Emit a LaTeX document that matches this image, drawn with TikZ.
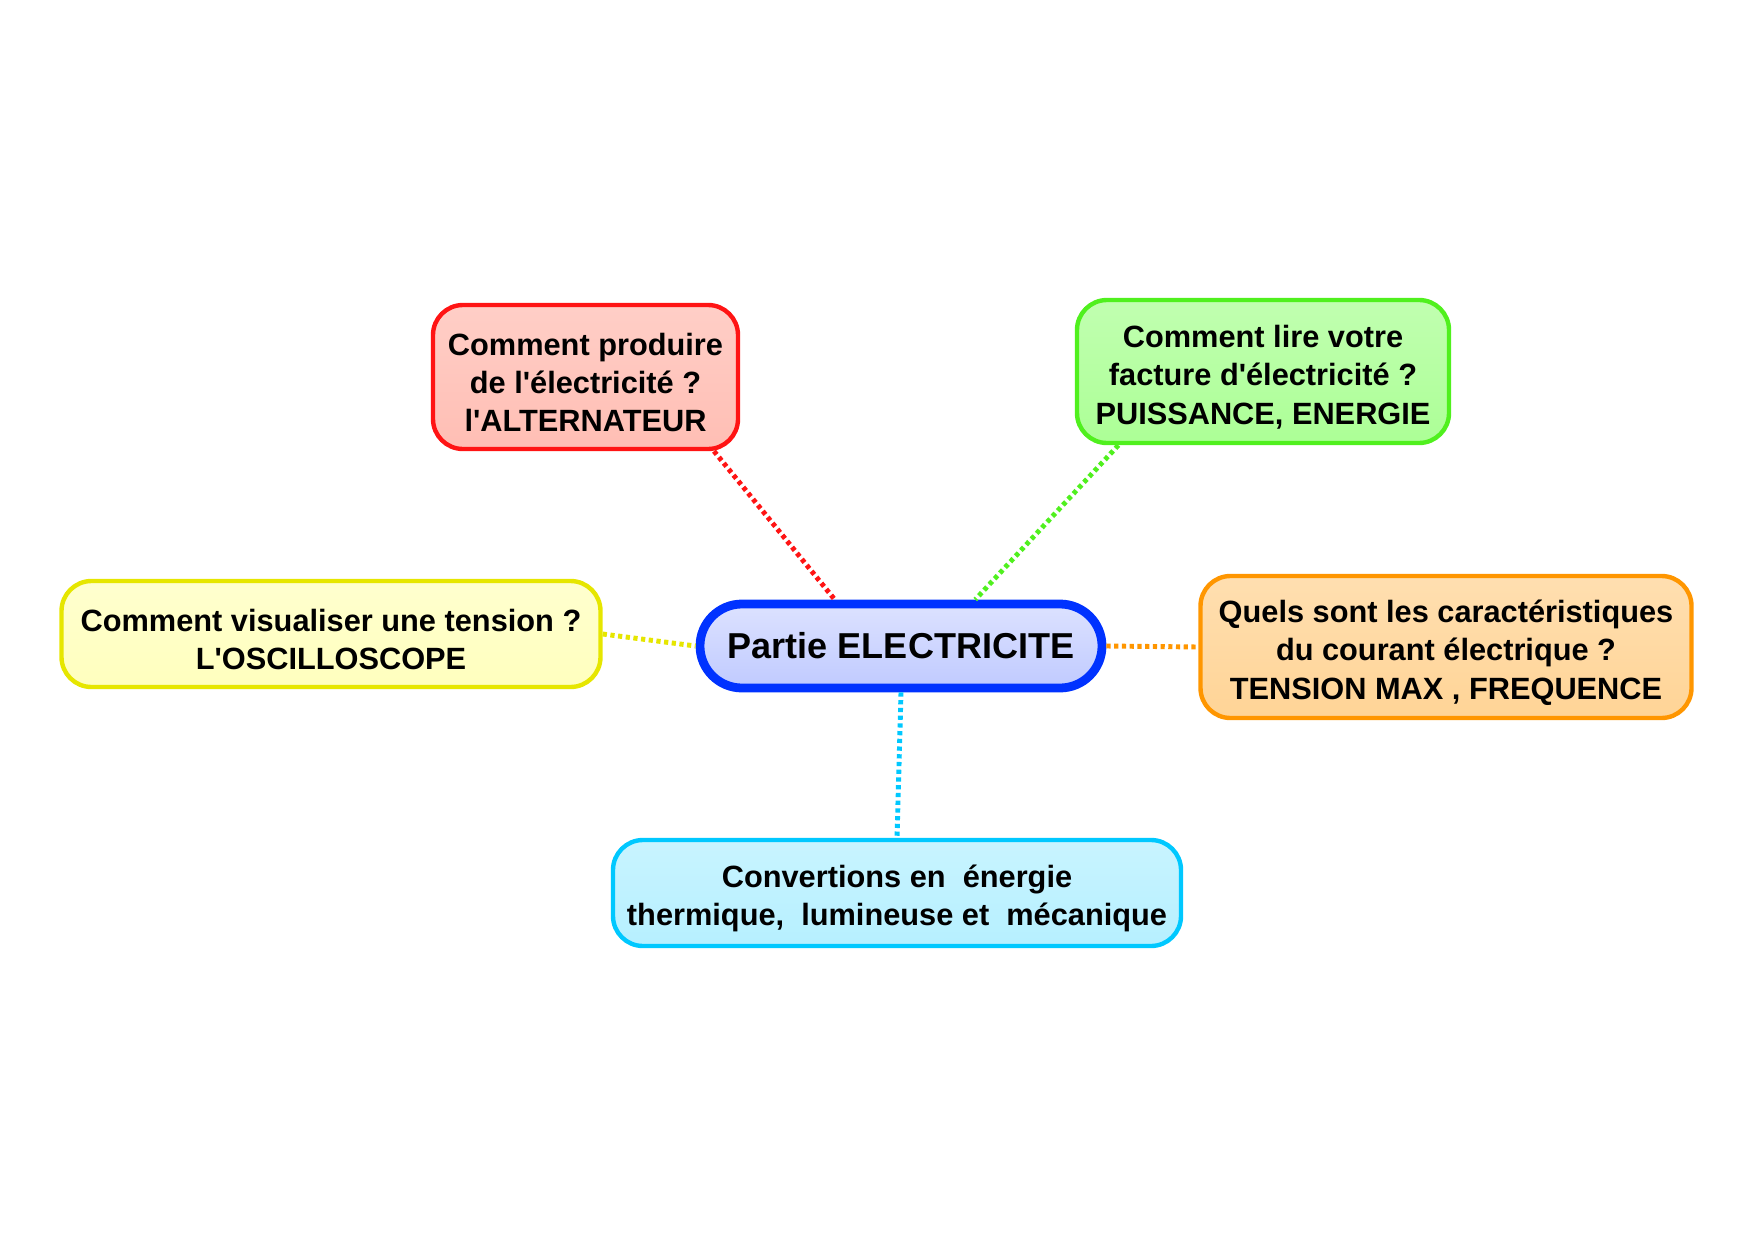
\documentclass[tikz,border=0pt]{standalone}
\usepackage{fontspec}
\setmainfont{Liberation Sans}[Ligatures=TeXOff]
\definecolor{rouge}{RGB}{255,20,20}
\definecolor{rougefond}{RGB}{255,190,180}
\definecolor{vert}{RGB}{80,240,30}
\definecolor{vertfond}{RGB}{172,255,150}
\definecolor{jaune}{RGB}{230,230,0}
\definecolor{jaunefond}{RGB}{255,255,190}
\definecolor{bleu}{RGB}{0,50,255}
\definecolor{bleufond}{RGB}{192,202,255}
\definecolor{orange}{RGB}{255,150,0}
\definecolor{orangefond}{RGB}{255,212,150}
\definecolor{cyan}{RGB}{0,200,255}
\definecolor{cyanfond}{RGB}{182,240,255}
\begin{document}
\begin{tikzpicture}[
  bulle/.style={draw, rounded corners=0.6cm, line width=2.5pt, align=center,
    font=\bfseries\fontsize{17.5}{21.8}\selectfont},
  question/.style={bulle,
    execute at begin node={\vbox\bgroup\vskip6.4pt\hbox\bgroup},
    execute at end node={\egroup\egroup}},
  lien/.style={line width=2.8pt, dash pattern=on 2.4pt off 2pt}
]
\useasboundingbox (0,0) rectangle (35.08,-24.8);
% noeud central
\node[bulle, draw=bleu, line width=5pt, rounded corners=0.84cm,
  top color=bleufond!55!white, bottom color=bleufond,
  minimum width=8.04cm, minimum height=1.68cm,
  font=\bfseries\fontsize{20.5}{26}\selectfont] (centre) at (18.02,-12.92) {Partie ELECTRICITE};
% production
\node[question, draw=rouge, top color=rougefond!75!white, bottom color=rougefond,
  minimum width=6.1cm, minimum height=2.88cm] (prod) at (11.71,-7.54)
  {Comment produire\\de l'électricité ?\\l'ALTERNATEUR};
% facture
\node[question, draw=vert, top color=vertfond!75!white, bottom color=vertfond,
  minimum width=7.44cm, minimum height=2.86cm] (facture) at (25.26,-7.43)
  {Comment lire votre\\facture d'électricité ?\\PUISSANCE, ENERGIE};
% oscilloscope
\node[question, draw=jaune, top color=jaunefond!75!white, bottom color=jaunefond,
  minimum width=10.78cm, minimum height=2.12cm] (oscillo) at (6.62,-12.68)
  {Comment visualiser une tension ?\\L'OSCILLOSCOPE};
% caracteristiques
\node[question, draw=orange, top color=orangefond!75!white, bottom color=orangefond,
  minimum width=9.82cm, minimum height=2.84cm] (carac) at (28.92,-12.94)
  {Quels sont les caractéristiques\\du courant électrique ?\\TENSION MAX , FREQUENCE};
% conversions
\node[question, draw=cyan, top color=cyanfond!75!white, bottom color=cyanfond,
  minimum width=11.36cm, minimum height=2.12cm] (conv) at (17.94,-17.86)
  {Convertions en~ énergie\\thermique,~ lumineuse et~ mécanique};
% liens
\draw[lien, rouge] (prod.-30) -- (centre.145);
\draw[lien, vert] (facture.207) -- (centre.32);
\draw[lien, jaune] (oscillo.east) -- (centre.west);
\draw[lien, orange] (centre.east) -- (carac.west);
\draw[lien, cyan] (centre.south) -- (conv.north);
\end{tikzpicture}
\end{document}
